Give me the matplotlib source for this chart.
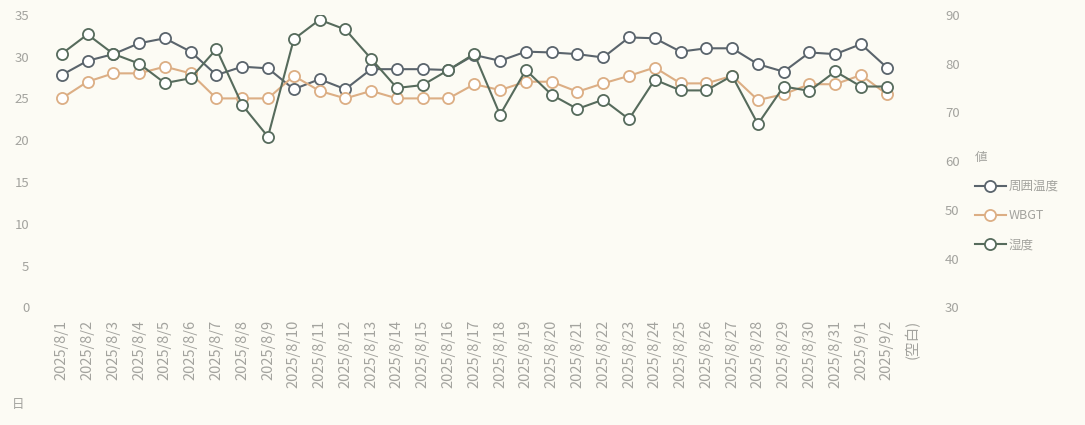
import numpy as np
import matplotlib
matplotlib.use("Agg")
import matplotlib.pyplot as plt

plt.rcParams['font.family'] = ['Noto Sans CJK JP', 'DejaVu Sans']

# 日付（最後は空白カテゴリ）
dates = [f"2025/8/{d}" for d in range(1, 32)] + ["2025/9/1", "2025/9/2", "(空白)"]

ambient = [27.8, 29.5, 30.3, 31.6, 32.2, 30.6, 27.8, 28.8, 28.6, 26.1, 27.3, 26.1,
           28.5, 28.5, 28.5, 28.4, 30.2, 29.5, 30.6, 30.5, 30.3, 29.9, 32.3, 32.2,
           30.6, 31.0, 31.0, 29.1, 28.2, 30.5, 30.3, 31.5, 28.7, np.nan]
wbgt = [25, 27, 28, 28, 28.8, 28, 25, 25, 25, 27.7, 25.9, 25,
        25.9, 25, 25, 25, 26.7, 26, 27, 27, 25.8, 26.8, 27.7, 28.7,
        26.8, 26.8, 27.7, 24.8, 25.5, 26.7, 26.7, 27.8, 25.5, np.nan]
humidity = [82, 86, 82, 80, 76, 77, 83, 71.5, 65, 85, 89, 87,
            81, 75, 75.6, 78.7, 82, 69.5, 78.7, 73.6, 70.7, 72.6, 68.6, 76.7,
            74.5, 74.5, 77.5, 67.6, 75.3, 74.4, 78.4, 75.3, 75.3, np.nan]

c_amb = '#5a646c'
c_wbgt = '#dcae84'
c_hum = '#566b5c'
bg = '#fcfbf4'
txt = '#a3a39e'

fig = plt.figure(figsize=(10.85, 4.25), dpi=100, facecolor=bg)
ax = fig.add_axes([0.045, 0.277, 0.808, 0.688], facecolor=bg)
ax2 = ax.twinx()

x = np.arange(len(dates))
mk = dict(marker='o', markersize=8, markerfacecolor='white', markeredgewidth=1.3, linewidth=1.5)
l1, = ax.plot(x, ambient, color=c_amb, markeredgecolor=c_amb, label='周囲温度', **mk)
l2, = ax.plot(x, wbgt, color=c_wbgt, markeredgecolor=c_wbgt, label='WBGT', **mk)
l3, = ax2.plot(x, humidity, color=c_hum, markeredgecolor=c_hum, label='湿度', **mk)

ax.set_ylim(0, 35)
ax2.set_ylim(30, 90)
ax.set_yticks(range(0, 36, 5))
ax2.set_yticks(range(30, 91, 10))
ax.set_xlim(-0.5, len(dates) - 0.5)
ax.set_xticks(x)
ax.set_xticklabels(dates, rotation=90)

for a in (ax, ax2):
    for s in a.spines.values():
        s.set_visible(False)
    a.tick_params(length=0, colors=txt, labelsize=9.5)
ax.tick_params(axis='y', pad=14)
ax2.tick_params(axis='y', pad=14)
ax.tick_params(axis='x', pad=9, labelsize=10.5)

leg = fig.legend(handles=[l1, l2, l3], title='値', loc='upper left',
                 bbox_to_anchor=(0.888, 0.672), frameon=False, fontsize=9,
                 title_fontsize=9, handlelength=2.5, labelspacing=1.3,
                 handletextpad=0.2, alignment='left')
for t in leg.get_texts():
    t.set_color(txt)
leg.get_title().set_color(txt)

fig.text(0.011, 0.04, '日', color=txt, fontsize=9)

fig.savefig('out.png', dpi=100, facecolor=bg)
